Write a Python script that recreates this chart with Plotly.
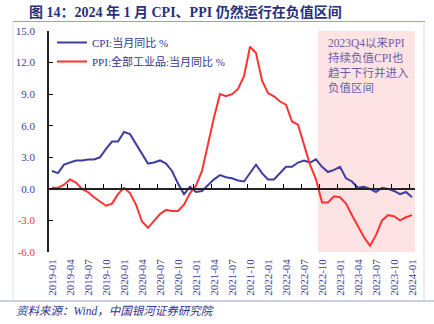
import plotly.graph_objects as go

months = [f"{y}-{m:02d}" for y in range(2019, 2024) for m in range(1, 13)] + ["2024-01"]

cpi = [1.7, 1.5, 2.3, 2.5, 2.7, 2.7, 2.8, 2.8, 3.0, 3.8, 4.5, 4.5,
       5.4, 5.2, 4.3, 3.3, 2.4, 2.5, 2.7, 2.4, 1.7, 0.5, -0.5, 0.2,
       -0.3, -0.2, 0.4, 0.9, 1.3, 1.1, 1.0, 0.8, 0.7, 1.5, 2.3, 1.5,
       0.9, 0.9, 1.5, 2.1, 2.1, 2.5, 2.7, 2.5, 2.8, 2.1, 1.6, 1.8,
       2.1, 1.0, 0.7, 0.1, 0.2, 0.0, -0.3, 0.1, 0.0, -0.2, -0.5, -0.3,
       -0.8]
ppi = [0.1, 0.1, 0.4, 0.9, 0.6, 0.0, -0.3, -0.8, -1.2, -1.6, -1.4, -0.5,
       0.1, -0.4, -1.5, -3.1, -3.7, -3.0, -2.4, -2.0, -2.1, -2.1, -1.5, -0.4,
       0.3, 1.7, 4.4, 6.8, 9.0, 8.8, 9.0, 9.5, 10.7, 13.5, 12.9, 10.3,
       9.1, 8.8, 8.3, 8.0, 6.4, 6.1, 4.2, 2.3, 0.9, -1.3, -1.3, -0.7,
       -0.8, -1.4, -2.5, -3.6, -4.6, -5.4, -4.4, -3.0, -2.5, -2.6, -3.0, -2.7,
       -2.5]
y_ticks = [-6.0, -3.0, 0.0, 3.0, 6.0, 9.0, 12.0, 15.0]
cpi_name = "CPI:当月同比 %"
ppi_name = "PPI:全部工业品:当月同比 %"
title_text = "图 14：2024 年 1 月 CPI、PPI 仍然运行在负值区间"
note_text = "2023Q4以来PPI<br>持续负值CPI也<br>趋于下行并进入<br>负值区间"
source_text = "资料来源：Wind，中国银河证券研究院"
shade_start = 44.3

FONT = "Liberation Serif, Times New Roman, Noto Sans CJK SC, serif"
NAVY = "#3b3b9b"
RED = "#ff3333"

W, H = 434, 324
L, R, T, B = 49, 19, 31, 72
pw, ph = W - L - R, H - T - B

def px(x):
    return (x - L) / pw

def py(y):
    return (H - B - y) / ph

idx = list(range(len(months)))

fig = go.Figure()
fig.add_trace(go.Scatter(x=idx, y=cpi, mode="lines", name=cpi_name,
                         line=dict(color="#403c9e", width=2)))
fig.add_trace(go.Scatter(x=idx, y=ppi, mode="lines", name=ppi_name,
                         line=dict(color=RED, width=2)))
fig.add_trace(go.Scatter(x=[0], y=[0], xaxis="x2", mode="lines",
                         showlegend=False, hoverinfo="skip",
                         line=dict(width=0)))

ticktext_y = [(f"<span style='color:{RED}'>{v:.1f}</span>" if v < 0 else f"{v:.1f}")
              for v in y_ticks]

xr = [-0.5, len(months) - 0.5]
fig.update_layout(
    width=W, height=H,
    margin=dict(l=L, r=R, t=T, b=B),
    paper_bgcolor="white", plot_bgcolor="white",
    font=dict(family=FONT, size=11, color=NAVY),
    showlegend=True,
    legend=dict(x=px(52), y=py(28), xanchor="left", yanchor="top",
                bgcolor="rgba(0,0,0,0)", font=dict(size=11, color="#33338f"),
                itemwidth=30, tracegroupgap=0),
    xaxis=dict(range=xr, tickvals=idx[::3], ticktext=months[::3],
               tickangle=-90, showgrid=False, zeroline=False, showline=False,
               ticks="", tickfont=dict(size=11, color=NAVY), ticklabelstandoff=4),
    xaxis2=dict(range=xr, overlaying="x", anchor="free", position=6/21,
                tickvals=[2.5 + 3 * k for k in range(20)], ticks="inside",
                ticklen=4, tickcolor="black", tickwidth=1,
                showticklabels=False, showgrid=False, zeroline=False,
                showline=True, linecolor="#222222", linewidth=1.5),
    yaxis=dict(range=[-6, 15], tickvals=y_ticks, ticktext=ticktext_y,
               ticks="inside", ticklen=4, tickcolor="black",
               showline=True, linecolor="#222222", linewidth=1.5,
               showgrid=False, zeroline=False,
               tickfont=dict(size=11, color=NAVY), ticklabelstandoff=10),
)

fig.add_shape(type="rect", xref="x", yref="y", x0=shade_start, x1=xr[1],
              y0=-6, y1=15, fillcolor="#fde3e3", line=dict(width=0), layer="below")

# frame / decorative lines
fig.add_shape(type="line", xref="paper", yref="paper", x0=px(13), x1=px(425),
              y0=py(21.5), y1=py(21.5), line=dict(color="#9c9cc8", width=1.2))
fig.add_shape(type="line", xref="paper", yref="paper", x0=px(13), x1=px(13),
              y0=py(22), y1=py(300), line=dict(color="#e0e0e8", width=1))
fig.add_shape(type="line", xref="paper", yref="paper", x0=px(424), x1=px(424),
              y0=py(22), y1=py(300), line=dict(color="#d8d8e0", width=1))
fig.add_shape(type="line", xref="paper", yref="paper", x0=px(0), x1=px(434),
              y0=py(301), y1=py(301), line=dict(color="#9c9cc8", width=1.2))

fig.add_annotation(xref="paper", yref="paper", x=px(27), y=py(12),
                   xanchor="left", yanchor="middle", showarrow=False,
                   text=f"<b>{title_text}</b>",
                   font=dict(family=FONT, size=14, color="#28307c"))
fig.add_annotation(xref="paper", yref="paper", x=px(326), y=py(35),
                   xanchor="left", yanchor="top", align="left", showarrow=False,
                   text=note_text,
                   font=dict(family=FONT, size=11.5, color="#6b5ea6"))
fig.add_annotation(xref="paper", yref="paper", x=px(14), y=py(311),
                   xanchor="left", yanchor="middle", showarrow=False,
                   text=f"<i>{source_text}</i>",
                   font=dict(family=FONT, size=11.5, color="#2e3290"))

fig.write_html("out.html")
